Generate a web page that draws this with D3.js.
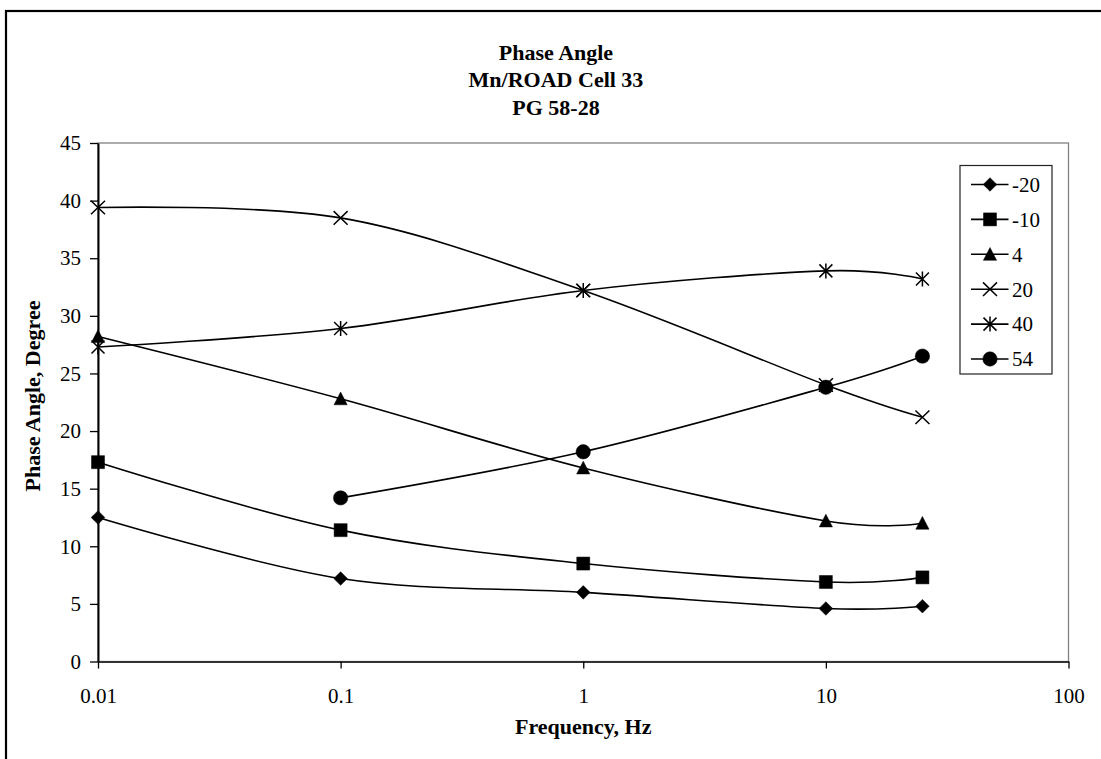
<!DOCTYPE html>
<html>
<head>
<meta charset="utf-8">
<script src="https://cdn.jsdelivr.net/npm/d3@7"></script>
<style>
  html, body { margin: 0; padding: 0; background: #fff; }
  svg { display: block; }
  text { font-family: "Liberation Serif", "Times New Roman", serif; fill: #000; }
</style>
</head>
<body>
<svg id="chart" width="1101" height="759"></svg>
<script>
// Loading frequencies (Hz) and phase angles (degrees) per test temperature (°C)
const frequencies = [0.01, 0.1, 1, 10, 25];
const temperatures = ["-20", "-10", "4", "20", "40", "54"];
const phaseM20 = [12.5, 7.2, 6.0, 4.6, 4.8];
const phaseM10 = [17.3, 11.4, 8.5, 6.9, 7.3];
const phase4   = [28.2, 22.8, 16.8, 12.2, 12.0];
const phase20  = [39.4, 38.5, 32.2, 24.0, 21.2];
const phase40  = [27.3, 28.9, 32.2, 33.9, 33.2];
const phase54  = [null, 14.2, 18.2, 23.8, 26.5];
const yTicks = [0, 5, 10, 15, 20, 25, 30, 35, 40, 45];
const xTicks = [0.01, 0.1, 1, 10, 100];
const titleLines = ["Phase Angle", "Mn/ROAD Cell 33", "PG 58-28"];

const seriesValues = [phaseM20, phaseM10, phase4, phase20, phase40, phase54];
const markerKinds = ["diamond", "square", "triangle", "x", "asterisk", "circle"];

const svg = d3.select("#chart");
const plot = { left: 98, right: 1068.5, top: 143, bottom: 661.5 };

const x = d3.scaleLog().domain([0.01, 100]).range([plot.left, plot.right]);
const y = d3.scaleLinear().domain([0, 45]).range([plot.bottom, plot.top]);

// Outer chart frame
svg.append("rect")
  .attr("x", 6).attr("y", 11).attr("width", 1110).attr("height", 770)
  .attr("fill", "none").attr("stroke", "#000").attr("stroke-width", 2.2);

// Plot area border
svg.append("rect")
  .attr("x", plot.left).attr("y", plot.top)
  .attr("width", plot.right - plot.left).attr("height", plot.bottom - plot.top)
  .attr("fill", "none").attr("stroke", "#808080").attr("stroke-width", 1.3);

// Title
svg.append("g").selectAll("text").data(titleLines).join("text")
  .attr("x", 556).attr("y", (d, i) => 59.5 + i * 27.7)
  .attr("text-anchor", "middle")
  .attr("font-size", 22).attr("font-weight", "bold")
  .text(d => d);

// Y axis
const yAxis = svg.append("g")
  .attr("transform", `translate(${plot.left},0)`)
  .call(d3.axisLeft(y).tickValues(yTicks).tickSize(8).tickSizeOuter(0).tickPadding(9));
yAxis.select(".domain").attr("stroke", "#000").attr("stroke-width", 2);
yAxis.selectAll(".tick line").attr("stroke", "#000").attr("stroke-width", 1.3);
yAxis.selectAll(".tick text").attr("font-size", 21)
  .attr("font-family", "'Liberation Serif', 'Times New Roman', serif");

// X axis
const xAxis = svg.append("g")
  .attr("transform", `translate(0,${plot.bottom})`)
  .call(d3.axisBottom(x).tickValues(xTicks).tickFormat(d => String(d)).tickSize(7).tickSizeOuter(0).tickPadding(20));
xAxis.select(".domain").attr("stroke", "#333").attr("stroke-width", 2.2);
xAxis.selectAll(".tick line").attr("stroke", "#000").attr("stroke-width", 1.3);
xAxis.selectAll(".tick text").attr("font-size", 21)
  .attr("font-family", "'Liberation Serif', 'Times New Roman', serif");

// Axis titles
svg.append("text")
  .attr("x", (plot.left + plot.right) / 2).attr("y", 734)
  .attr("text-anchor", "middle").attr("font-size", 22).attr("font-weight", "bold")
  .text("Frequency, Hz");
svg.append("text")
  .attr("transform", "translate(40,396) rotate(-90)")
  .attr("text-anchor", "middle").attr("font-size", 22).attr("font-weight", "bold")
  .text("Phase Angle, Degree");

// Marker shapes
function markerPath(kind) {
  switch (kind) {
    case "diamond":  return "M0,-6.8L6.8,0L0,6.8L-6.8,0Z";
    case "square":   return "M-6.5,-6.5H6.5V6.5H-6.5Z";
    case "triangle": return "M0,-6.8L6.6,6L-6.6,6Z";
    case "x":        return "M-7,-6.8L7,6.8M-7,6.8L7,-6.8";
    case "asterisk": return "M-6.5,-6.5L6.5,6.5M-6.5,6.5L6.5,-6.5M0,-7.5V7.5";
    case "circle":   return d3.symbol(d3.symbolCircle, Math.PI * 7.2 * 7.2)();
  }
}
const strokeOnly = k => k === "x" || k === "asterisk";

function drawMarker(g, kind, cx, cy) {
  g.append("path")
    .attr("d", markerPath(kind))
    .attr("transform", `translate(${cx},${cy})`)
    .attr("fill", strokeOnly(kind) ? "none" : "#000")
    .attr("stroke", "#000")
    .attr("stroke-width", strokeOnly(kind) ? 1.5 : 0.5);
}

// Smoothed series lines
const line = d3.line()
  .defined(d => d.v !== null)
  .x(d => x(d.f)).y(d => y(d.v))
  .curve(d3.curveCatmullRom.alpha(0));

const seriesG = svg.append("g");
seriesValues.forEach((vals, i) => {
  const pts = frequencies.map((f, j) => ({ f, v: vals[j] })).filter(d => d.v !== null);
  seriesG.append("path")
    .attr("d", line(pts))
    .attr("fill", "none").attr("stroke", "#000").attr("stroke-width", 1.6);
});
seriesValues.forEach((vals, i) => {
  frequencies.forEach((f, j) => {
    if (vals[j] !== null) drawMarker(seriesG, markerKinds[i], x(f), y(vals[j]));
  });
});

// Legend
const legend = svg.append("g");
legend.append("rect")
  .attr("x", 960).attr("y", 165.5).attr("width", 92).attr("height", 208.5)
  .attr("fill", "#fff").attr("stroke", "#222").attr("stroke-width", 1.2);
temperatures.forEach((t, i) => {
  const cy = 184.5 + i * 34.9;
  legend.append("line")
    .attr("x1", 971).attr("x2", 1008.5).attr("y1", cy).attr("y2", cy)
    .attr("stroke", "#000").attr("stroke-width", 1.6);
  drawMarker(legend, markerKinds[i], 990, cy);
  legend.append("text")
    .attr("x", 1012).attr("y", cy + 7.3)
    .attr("font-size", 21)
    .text(t);
});
</script>
</body>
</html>
